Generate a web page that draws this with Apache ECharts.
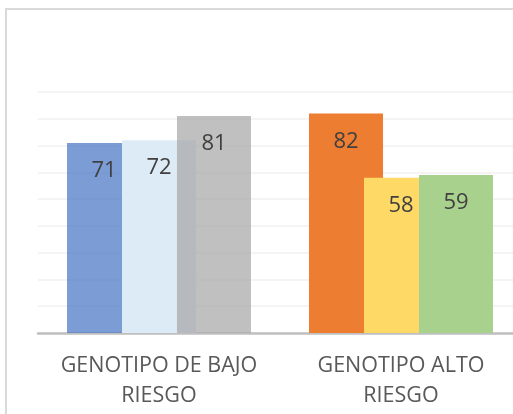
<!DOCTYPE html>
<html>
<head>
<meta charset="utf-8">
<script src="https://cdn.jsdelivr.net/npm/echarts@6/dist/echarts.min.js"></script>
<style>
  html, body { margin: 0; padding: 0; background: #ffffff; }
  #chart { width: 513px; height: 414px; }
</style>
</head>
<body>
<div id="chart"></div>
<script>
const categories = ['GENOTIPO DE BAJO\nRIESGO', 'GENOTIPO ALTO\nRIESGO'];
const serie1 = [71, 82];
const serie2 = [72, 58];
const serie3 = [81, 59];
const colors1 = ['rgba(68,114,196,0.7)', '#ED7D31'];
const colors2 = ['#DDEBF7', '#FFD966'];
const colors3 = ['rgba(165,165,165,0.7)', '#A9D18E'];

function mk(vals, cols) {
  return vals.map((v, i) => ({ value: v, itemStyle: { color: cols[i] } }));
}

const labelCfg = {
  show: true,
  position: 'insideTop',
  distance: 17,
  color: '#404040',
  fontSize: 22,
  fontFamily: 'Open Sans'
};

const chart = echarts.init(document.getElementById('chart'));
chart.setOption({
  animation: false,
  backgroundColor: '#ffffff',
  graphic: [{
    type: 'rect',
    silent: true,
    z: 100,
    shape: { x: 6, y: 9, width: 700, height: 600 },
    style: { fill: 'none', stroke: '#d9d9d9', lineWidth: 2 }
  }],
  grid: { left: 38, top: 92, width: 484, height: 241, outerBoundsMode: 'none', containLabel: false },
  xAxis: {
    type: 'category',
    data: categories,
    axisLine: { lineStyle: { color: '#bfbfbf', width: 2.5 } },
    axisTick: { show: false },
    axisLabel: {
      interval: 0,
      margin: 18,
      color: '#595959',
      fontSize: 21.5,
      lineHeight: 30,
      fontFamily: 'Open Sans'
    }
  },
  yAxis: {
    type: 'value',
    min: 0,
    max: 90,
    interval: 10,
    axisLabel: { show: false },
    axisLine: { show: false },
    axisTick: { show: false },
    splitLine: { lineStyle: { color: '#f0f0f0', width: 1.5 } }
  },
  series: [
    { type: 'bar', data: mk(serie1, colors1), barWidth: 74, barGap: '-25.7%', label: labelCfg },
    { type: 'bar', data: mk(serie2, colors2), barWidth: 74, barGap: '-25.7%', label: labelCfg },
    { type: 'bar', data: mk(serie3, colors3), barWidth: 74, barGap: '-25.7%', label: labelCfg }
  ]
});
</script>
</body>
</html>
